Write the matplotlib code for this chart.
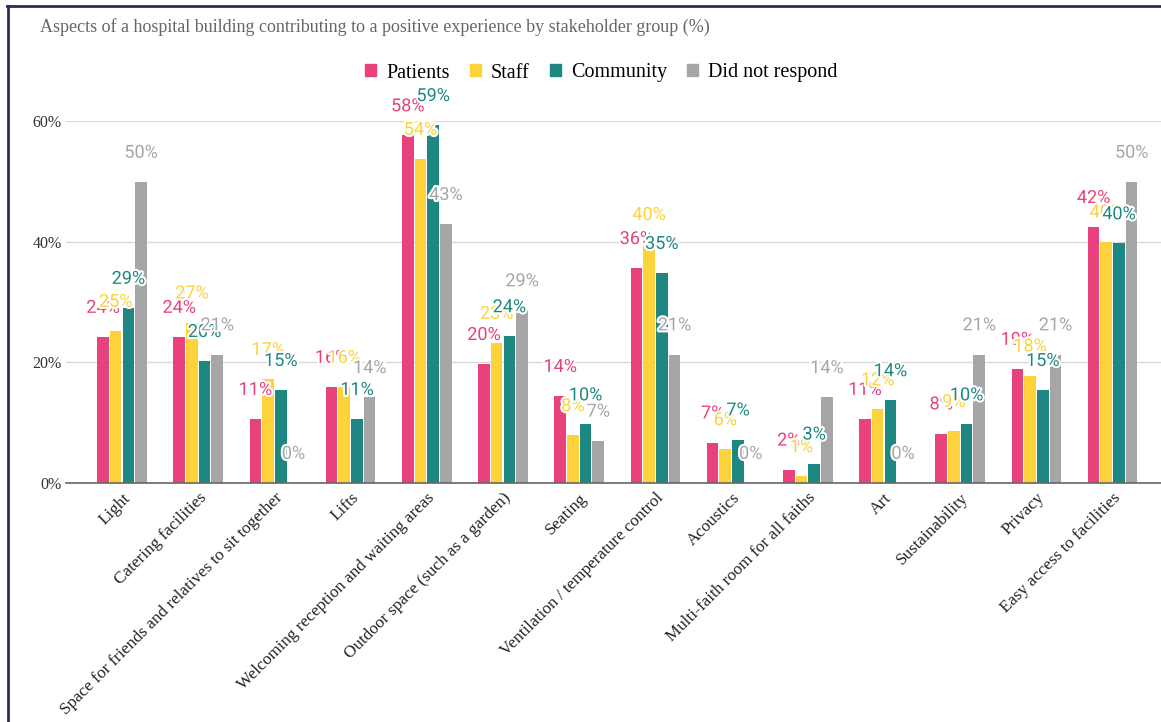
import numpy as np
import matplotlib.pyplot as plt
import matplotlib.patheffects as pe
from matplotlib.lines import Line2D

categories = [
    "Light", "Catering facilities", "Space for friends and relatives to sit together",
    "Lifts", "Welcoming reception and waiting areas", "Outdoor space (such as a garden)",
    "Seating", "Ventilation / temperature control", "Acoustics",
    "Multi-faith room for all faiths", "Art", "Sustainability", "Privacy",
    "Easy access to facilities",
]
patients = [24.2, 24.2, 10.6, 15.9, 57.6, 19.7, 14.4, 35.6, 6.7, 2.2, 10.6, 8.2, 18.9, 42.4]
staff = [25.2, 26.6, 17.2, 15.9, 53.7, 23.2, 7.9, 39.6, 5.6, 1.1, 12.2, 8.6, 17.8, 40.0]
community = [29.0, 20.2, 15.4, 10.6, 59.3, 24.3, 9.7, 34.8, 7.2, 3.2, 13.7, 9.7, 15.4, 39.7]
no_response = [49.9, 21.3, 0.0, 14.2, 42.9, 28.6, 7.0, 21.3, 0.0, 14.2, 0.0, 21.3, 21.3, 49.9]

series = [
    ("Patients", patients, "#E8417D"),
    ("Staff", staff, "#FDD23B"),
    ("Community", community, "#1E8781"),
    ("Did not respond", no_response, "#A6A6A6"),
]
yticks = [0, 20, 40, 60]

serif = "Liberation Serif"

fig = plt.figure(figsize=(11.61, 7.22), dpi=100)
fig.patch.set_facecolor("white")
ax = fig.add_axes([66 / 1161, 0.331, 1 - 66 / 1161, 0.5014])

x = np.arange(len(categories))
step = 0.1667
width = 0.153
for i, (name, vals, col) in enumerate(series):
    pos = x + (i - 1.5) * step
    ax.bar(pos, vals, width=width, color=col, label=name, zorder=3)
    for px, v in zip(pos, vals):
        ax.annotate(f"{v:.0f}%", (px, v), xytext=(0, 21), textcoords="offset points",
                    ha="center", va="center", fontsize=13, family="Roboto",
                    color=col, zorder=5, annotation_clip=False,
                    path_effects=[pe.withStroke(linewidth=3, foreground="white")])

ax.set_xlim(-0.735, len(categories) - 1 + 0.635)
ax.set_ylim(0, 60)
ax.set_yticks(yticks)
ax.set_yticklabels([f"{t}%" for t in yticks], family=serif, fontsize=11.5, color="#333333")
ax.yaxis.grid(True, color="#d9d9d9", linewidth=1, zorder=0)
ax.set_axisbelow(True)
ax.tick_params(axis="y", length=0, pad=3)
ax.tick_params(axis="x", length=0, pad=5)
ax.set_xticks(x)
ax.set_xticklabels(categories, rotation=45, ha="right", rotation_mode="anchor",
                   family=serif, fontsize=12.3, color="#222222")
for s in ["top", "right", "left"]:
    ax.spines[s].set_visible(False)
ax.spines["bottom"].set_color("#666666")
ax.spines["bottom"].set_linewidth(1.2)
ax.spines["bottom"].set_zorder(4)

fig.text(40 / 1161, 1 - 27 / 722, "Aspects of a hospital building contributing to a positive experience by stakeholder group (%)",
         family=serif, fontsize=13, color="#666666", ha="left", va="center")

handles = [plt.Rectangle((0, 0), 1, 1, color=c) for _, _, c in series]
fig.legend(handles, [n for n, _, _ in series], loc="center", bbox_to_anchor=(0.518, 1 - 73 / 722),
           ncol=4, frameon=False, prop={"family": serif, "size": 14.5},
           handlelength=0.55, handleheight=0.55, handletextpad=0.5, columnspacing=1.0)

# frame lines along top and left edge
fig.add_artist(Line2D([7 / 1161, 1], [1 - 6 / 722, 1 - 6 / 722], color="#2b2b5c", linewidth=2, transform=fig.transFigure))
fig.add_artist(Line2D([7.5 / 1161, 7.5 / 1161], [0, 1 - 6 / 722], color="#2b2b5c", linewidth=2, transform=fig.transFigure))

fig.savefig("out.png", dpi=100)
